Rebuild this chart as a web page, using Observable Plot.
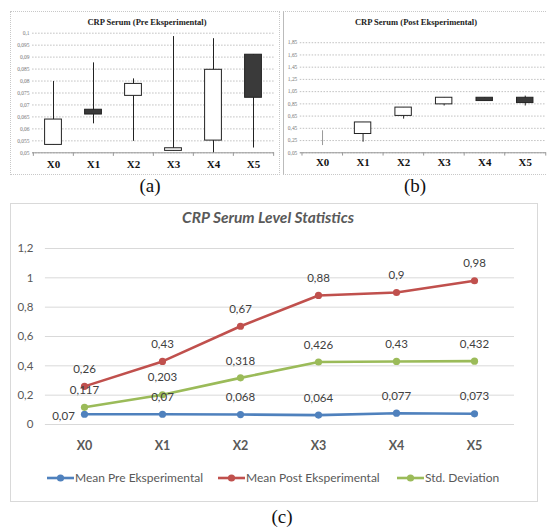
<!DOCTYPE html>
<html><head><meta charset="utf-8">
<script src="https://cdn.jsdelivr.net/npm/d3@7"></script>
<script src="https://cdn.jsdelivr.net/npm/@observablehq/plot@0.6"></script>
<style>
body{margin:0;background:#fff;}
#root{position:relative;width:547px;height:531px;overflow:hidden;background:#fff;}
.abs{position:absolute;}
.cap{position:absolute;font-family:"Liberation Serif",serif;font-size:19px;color:#111;transform:translateX(-50%);}
.ptitle{position:absolute;font-family:"Liberation Serif",serif;font-weight:bold;font-size:8.5px;color:#222;transform:translateX(-50%);white-space:nowrap;}
</style></head><body><div id="root"></div>
<script>
const groups = ["X0","X1","X2","X3","X4","X5"];

// Panel (a): CRP Serum pre experimental (candles)
const preOpen  = [0.0533, 0.068, 0.0738, 0.0508, 0.0551, 0.091];
const preClose = [0.0639, 0.066, 0.0788, 0.0519, 0.0847, 0.073];
const preLow   = [0.0533, 0.0621, 0.0548, 0.0508, 0.050, 0.052];
const preHigh  = [0.0798, 0.0876, 0.0809, 0.0986, 0.0977, 0.091];
const preTicks = [0.05, 0.055, 0.06, 0.065, 0.07, 0.075, 0.08, 0.085, 0.09, 0.095, 0.1];

// Panel (b): CRP Serum post experimental (candles)
const postOpen  = [0.26, 0.357, 0.653, 0.842, 0.95, 0.95];
const postClose = [0.26, 0.546, 0.789, 0.95, 0.896, 0.863];
const postLow   = [0.168, 0.223, 0.6, 0.815, 0.896, 0.815];
const postHigh  = [0.41, 0.546, 0.789, 0.95, 0.95, 0.977];
const postTicks = [0.05, 0.25, 0.45, 0.65, 0.85, 1.05, 1.25, 1.45, 1.65, 1.85];

// Panel (c): statistics
const meanPre  = [0.07, 0.07, 0.068, 0.064, 0.077, 0.073];
const meanPost = [0.26, 0.43, 0.67, 0.88, 0.9, 0.98];
const stdDev   = [0.117, 0.203, 0.318, 0.426, 0.43, 0.432];
const statTicks = [0, 0.2, 0.4, 0.6, 0.8, 1, 1.2];
const seriesNames = ["Mean Pre Eksperimental", "Mean Post Eksperimental", "Std. Deviation"];
const seriesColors = ["#4f81bd", "#c0504d", "#9bbb59"];

const fmt = d => String(d).replace(".", ",");
const root = document.getElementById("root");
function place(el, left, top) {
  const w = document.createElement("div");
  w.className = "abs"; w.style.left = left + "px"; w.style.top = top + "px";
  w.appendChild(el); root.appendChild(w); return w;
}
function addDiv(cls, text, left, top, extra) {
  const d = document.createElement("div");
  d.className = cls; d.textContent = text;
  d.style.left = left + "px"; d.style.top = top + "px";
  if (extra) Object.assign(d.style, extra);
  root.appendChild(d); return d;
}

// panel frames
addDiv("abs", "", 10, 11, {width:"268px", height:"162px", border:"1px dotted #c8c8c8"});
addDiv("abs", "", 283, 11, {width:"270px", height:"162px", borderLeft:"1px solid #bbb", borderTop:"1px dotted #c8c8c8", borderBottom:"1px dotted #c8c8c8"});
addDiv("abs", "", 10, 203, {width:"526px", height:"297px", border:"1px solid #d9d9d9"});

function candle(opts) {
  const idx = d3.range(groups.length);
  const {open, close, low, high, ticks, domain, width, height, mt, mb, ml, mr, inset, tickPad, step} = opts;
  return Plot.plot({
    width, height, marginTop: mt, marginBottom: mb, marginLeft: ml, marginRight: mr,
    x: {type: "band", domain: groups, padding: 0, label: null},
    y: {domain, label: null},
    style: {background: "transparent", overflow: "visible"},
    marks: [
      Plot.gridY(ticks, {stroke: "#8a8a8a", strokeOpacity: 0.55, strokeDasharray: "1.5,1.5"}),
      Plot.axisY(ticks, {tickFormat: fmt, tickSize: 0, tickPadding: 3, fontSize: 5.5, fill: "#777", fontFamily: "Liberation Serif", label: null}),
      Plot.ruleY([domain[0]], {stroke: "#999"}),
      Plot.ruleX(groups, {x: d => d, y1: domain[0], y2: domain[0] - (domain[1]-domain[0]) * 0.03, dx: -step/2, stroke: "#999"}),
      Plot.ruleX([groups[groups.length-1]], {x: d => d, y1: domain[0], y2: domain[0] - (domain[1]-domain[0]) * 0.03, dx: step/2, stroke: "#999"}),
      Plot.axisX({tickSize: 0, tickPadding: tickPad, fontSize: 11, fontWeight: "bold", fill: "#111", fontFamily: "Liberation Serif", label: null}),
      Plot.ruleX(idx, {x: i => groups[i], y1: i => low[i], y2: i => high[i], stroke: i => (opts.faint && opts.faint.includes(i)) ? "#999" : "#222", strokeWidth: 1}),
      Plot.barY(idx.filter(i => open[i] !== close[i]), {x: i => groups[i], y1: i => open[i], y2: i => close[i],
        fill: i => close[i] < open[i] ? "#3a3a3a" : "#ffffff", stroke: "#222", strokeWidth: 1, insetLeft: inset, insetRight: inset})
    ]
  });
}

place(candle({open: preOpen, close: preClose, low: preLow, high: preHigh, ticks: preTicks, domain: [0.05, 0.1],
  width: 280, height: 175, mt: 32.7, mb: 22.7, ml: 32.1, mr: 6, inset: 11.6, tickPad: 7.5, step: 40.3}), 0, 0);
place(candle({open: postOpen, close: postClose, low: postLow, high: postHigh, ticks: postTicks, domain: [0.05, 1.85],
  width: 270, height: 175, mt: 42.7, mb: 21, ml: 20, mr: 1, inset: 12.2, tickPad: 6, step: 41.5, faint: [0]}), 280, 0);

addDiv("ptitle", "CRP Serum (Pre Eksperimental)", 147, 17);
addDiv("ptitle", "CRP Serum (Post Eksperimental)", 416, 17);
addDiv("cap", "(a)", 150, 175);
addDiv("cap", "(b)", 415, 175);
addDiv("cap", "(c)", 282, 506);

// Panel (c)
const rows = [];
[meanPre, meanPost, stdDev].forEach((vals, s) => vals.forEach((v, i) => rows.push({series: seriesNames[s], color: seriesColors[s], x: groups[i], v, s, i})));
const font = "Lato, 'Open Sans', sans-serif";
const plotC = Plot.plot({
  width: 527, height: 300, marginTop: 48, marginBottom: 76, marginLeft: 34.9, marginRight: 23,
  x: {type: "point", domain: groups, padding: 0.5, label: null},
  y: {domain: [0, 1.2], label: null},
  style: {background: "transparent", fontFamily: font, overflow: "visible"},
  marks: [
    Plot.gridY(statTicks, {stroke: "#d9d9d9", strokeOpacity: 1}),
    Plot.axisY(statTicks, {tickFormat: fmt, tickSize: 0, tickPadding: 12, fontSize: 11.5, fill: "#595959", label: null}),
    Plot.axisX({tickSize: 0, tickPadding: 17, fontSize: 12.5, fontWeight: "bold", fill: "#595959", label: null}),
    Plot.line(rows, {x: "x", y: "v", z: "series", stroke: "color", strokeWidth: 2.6}),
    Plot.dot(rows, {x: "x", y: "v", fill: "color", r: 3.6}),
    Plot.text(rows.filter(d => !(d.s === 0 && d.i === 0)), {x: "x", y: "v", text: d => fmt(d.v), dy: -17, fontSize: 11.5, fill: "#404040"}),
    Plot.text(rows.filter(d => d.s === 0 && d.i === 0), {x: "x", y: "v", text: d => fmt(d.v), dx: -21, dy: 2, fontSize: 11.5, fill: "#404040"})
  ]
});
place(plotC, 10, 200);

addDiv("abs", "CRP Serum Level Statistics", 268, 208, {transform: "translateX(-50%)", fontFamily: font, fontStyle: "italic", fontWeight: "bold", fontSize: "15.5px", color: "#595959", whiteSpace: "nowrap"});

// legend
const legX = [47, 218, 397];
seriesNames.forEach((name, s) => {
  const item = document.createElement("div");
  item.className = "abs";
  item.style.cssText = `left:${legX[s]}px;top:470px;display:flex;align-items:center;font-family:${font};font-size:12px;color:#595959;white-space:nowrap;`;
  item.innerHTML = `<svg width="27" height="10"><line x1="0" y1="5" x2="27" y2="5" stroke="${seriesColors[s]}" stroke-width="2.6"/><circle cx="13.5" cy="5" r="3.6" fill="${seriesColors[s]}"/></svg><span style="margin-left:1px">${name}</span>`;
  root.appendChild(item);
});
</script></body></html>
